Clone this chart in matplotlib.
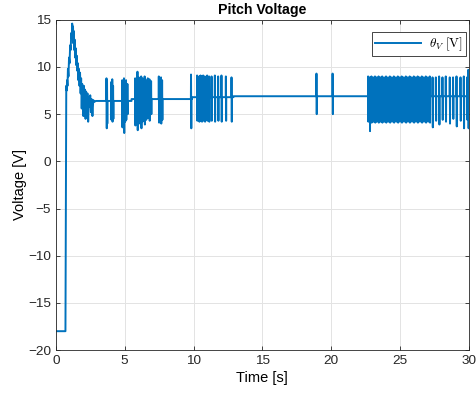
import matplotlib
matplotlib.use("Agg")
import matplotlib.pyplot as plt

plt.rcParams['font.family'] = ['Liberation Sans', 'DejaVu Sans']
plt.rcParams['mathtext.fontset'] = 'cm'

# start-up transient: hold at -18 V, jump, overshoot and decay
t_start = [0.00, 0.70, 0.76, 0.79, 0.82, 0.85, 0.88, 0.92, 0.96, 1.00, 1.04, 1.08,
           1.12, 1.16, 1.19, 1.22, 1.25, 1.28, 1.31, 1.34, 1.37, 1.40, 1.44, 1.48,
           1.52, 1.56, 1.60, 1.64, 1.68, 1.72, 1.76, 1.80, 1.84, 1.88, 1.92, 1.96,
           2.00, 2.04, 2.08, 2.12, 2.16, 2.20, 2.25, 2.30, 2.35, 2.40, 2.45, 2.50,
           2.55, 2.60, 2.66, 2.72, 2.80, 2.90, 3.00]
v_start = [-18.0, -18.0, 8.0, 7.5, 8.6, 8.0, 9.8, 9.0, 11.0, 10.4, 12.3, 11.8,
           13.6, 13.0, 14.6, 13.2, 14.3, 12.5, 13.8, 11.8, 12.9, 11.0, 12.0, 10.2,
           11.2, 9.6, 10.4, 8.6, 9.8, 8.0, 9.4, 7.2, 8.8, 5.6, 8.2, 6.8,
           4.8, 8.0, 6.0, 7.6, 4.5, 7.4, 5.5, 7.2, 4.2, 6.8, 5.8, 7.0,
           5.2, 6.6, 4.8, 6.5, 6.3, 6.4, 6.4]

# resting level between switching bursts
level_from = [3.0, 5.5, 9.9, 12.9]
level_val = [6.4, 6.6, 6.8, 6.9]

# switching spikes: time [s], upper and lower value [V]
spike_t = [3.68, 3.72, 4.02, 4.10, 4.16, 4.82, 4.88, 4.95, 5.02, 5.10, 5.20,
           5.76, 5.85, 5.93, 6.02, 6.10, 6.20, 6.28, 6.36, 6.45, 6.55, 6.68, 6.80,
           6.92, 7.48, 7.56, 7.64, 7.72,
           9.82,
           10.26, 10.41, 10.51, 10.60, 10.70, 10.82, 10.99, 11.13, 11.31, 11.55,
           11.79, 12.03, 12.35, 12.76,
           18.93, 20.10,
           22.68, 22.80, 22.92, 23.05, 23.18, 23.30, 23.44, 23.58, 23.70, 23.84,
           23.98, 24.12, 24.26, 24.40, 24.55, 24.70, 24.84, 24.98, 25.12, 25.27,
           25.42, 25.56, 25.70, 25.85, 26.00, 26.14, 26.28, 26.43, 26.58, 26.72,
           26.87, 27.02, 27.16,
           27.36, 27.60, 27.84, 28.08, 28.32, 28.61, 28.85, 29.10, 29.39, 29.63,
           29.87, 29.96]
spike_hi = [8.8, 8.6, 8.4, 8.7, 8.0, 8.6, 8.3, 8.8, 8.5, 8.6, 8.2,
            8.8, 8.6, 9.5, 8.9, 8.7, 9.0, 8.8, 8.5, 9.0, 8.6, 8.8, 8.7,
            8.5, 9.0, 8.8, 8.9, 8.6,
            9.2,
            9.1, 9.0, 9.1, 9.0, 9.1, 9.0, 9.1, 9.0, 9.0, 9.1,
            9.0, 9.1, 9.0, 8.9,
            9.3, 9.3,
            9.0, 8.9, 9.0, 8.9, 9.0, 8.9, 9.0, 8.9, 9.0, 8.9,
            9.0, 8.9, 9.0, 8.9, 9.0, 8.9, 9.0, 8.9, 9.0, 8.9,
            9.0, 8.9, 9.0, 8.9, 9.0, 8.9, 9.0, 8.9, 9.0, 8.9,
            9.0, 8.9, 9.0,
            8.9, 8.9, 9.0, 8.9, 9.0, 8.9, 8.9, 9.0, 8.9, 9.0,
            8.9, 9.7]
spike_lo = [3.5, 4.0, 4.4, 4.2, 4.5, 3.6, 4.5, 3.0, 4.2, 4.4, 5.0,
            3.8, 4.4, 3.3, 4.0, 4.6, 3.5, 4.2, 4.8, 3.9, 4.4, 4.6, 4.3,
            5.0, 4.1, 4.3, 4.0, 4.4,
            3.5,
            4.3, 4.2, 4.3, 4.2, 4.3, 4.2, 4.3, 4.2, 4.3, 4.2,
            4.3, 4.2, 4.3, 4.2,
            5.0, 5.0,
            4.2, 3.2, 4.1, 4.2, 4.1, 4.2, 4.1, 4.2, 4.1, 4.2,
            4.1, 4.2, 4.1, 4.2, 4.1, 4.2, 4.1, 4.2, 4.1, 4.2,
            4.1, 4.2, 4.1, 4.2, 4.1, 4.2, 4.1, 4.2, 4.1, 4.2,
            4.1, 4.2, 4.1,
            3.6, 4.3, 3.9, 4.4, 4.2, 4.0, 4.5, 3.7, 4.3, 3.5,
            4.4, 3.5]

T_END = 30.0


def level_at(t):
    level = level_val[0]
    for start, val in zip(level_from, level_val):
        if t >= start:
            level = val
    return level


def build_signal():
    pts = list(zip(t_start, v_start))
    # flat steps where the resting level changes
    for i in range(1, len(level_from)):
        s = level_from[i]
        pts += [(s - 0.001, level_val[i - 1]), (s, level_val[i])]
    for tk, hk, lk in zip(spike_t, spike_hi, spike_lo):
        b = level_at(tk)
        pts += [(tk - 0.01, b), (tk, hk), (tk + 0.02, lk), (tk + 0.03, b)]
    pts.append((T_END, level_at(T_END)))
    pts.sort(key=lambda p: p[0])
    t = [p[0] for p in pts]
    v = [p[1] for p in pts]
    return t, v


def main() -> None:
    t, v = build_signal()

    fig = plt.figure(figsize=(4.77, 3.96), dpi=100)
    ax = fig.add_axes([0.117, 0.116, 0.866, 0.834])

    ax.plot(t, v, color='#0072BD', linewidth=1.4, label=r'$\theta_V\ \mathrm{[V]}$')

    ax.set_xlim(0, 30)
    ax.set_ylim(-20, 15)
    ax.set_xticks(range(0, 31, 5))
    ax.set_yticks(range(-20, 16, 5))

    ax.grid(True, color='#e3e3e3', linewidth=0.7)
    ax.set_axisbelow(True)
    ax.tick_params(direction='in', top=True, right=True, length=3, width=0.6,
                   colors='#262626', labelsize=9.7)
    for sp in ax.spines.values():
        sp.set_color('#262626')
        sp.set_linewidth(0.6)

    ax.set_title('Pitch Voltage', fontsize=10.2, fontweight='bold', pad=4)
    ax.set_xlabel('Time [s]', fontsize=10.5, labelpad=3)
    ax.set_ylabel('Voltage [V]', fontsize=10.5, labelpad=1)

    leg = ax.legend(loc='upper right', bbox_to_anchor=(0.994, 0.962), borderaxespad=0,
                    fancybox=False, edgecolor='#262626', framealpha=1, fontsize=9.5,
                    handlelength=3.5, borderpad=0.25, handletextpad=0.6)
    leg.get_frame().set_linewidth(0.6)

    fig.savefig('out.png', dpi=100)


if __name__ == "__main__":
    main()
